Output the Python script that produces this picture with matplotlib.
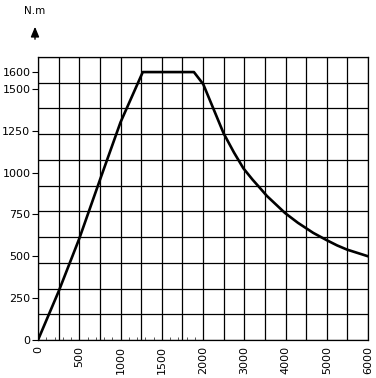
import numpy as np
import matplotlib
matplotlib.use('Agg')
import matplotlib.pyplot as plt

#====================================================
# Data
#====================================================

rpm = [0, 250, 500, 750, 1000, 1270, 1890, 2005, 2500, 2750, 2980,
       3200, 3380, 3550, 3990, 4300, 4670, 5000, 5250, 5490, 6000]
torque = [0, 290, 605, 955, 1300, 1600, 1600, 1528, 1234, 1120, 1025,
          958, 908, 860, 758, 700, 640, 596, 565, 540, 500]

ytick_vals = [0, 250, 500, 750, 1000, 1250, 1500, 1600]
xtick_vals = [0, 500, 1000, 1500, 2000, 3000, 4000, 5000, 6000]
xgrid_vals = list(range(0, 2000, 250)) + list(range(2000, 6001, 500))
xminor_vals = list(range(100, 2000, 100))
y_top = 1690
n_rows = 11

#====================================================
# Piecewise x scale: 250 rpm per cell up to 2000, then 500
#====================================================

def fwd(x):
    x = np.asarray(x, dtype=float)
    return np.where(x <= 2000, x / 250.0, 8 + (x - 2000) / 500.0)

def inv(u):
    u = np.asarray(u, dtype=float)
    return np.where(u <= 8, u * 250.0, 2000 + (u - 8) * 500.0)

plt.rcParams['font.family'] = ['DejaVu Sans']

fig = plt.figure(figsize=(3.76, 3.78), dpi=100)
ax = fig.add_axes([38 / 376, 38 / 378, 330 / 376, 283 / 378])
ax.set_xscale('function', functions=(fwd, inv))
ax.set_xlim(0, 6000)
ax.set_ylim(0, y_top)

# grid
for xv in xgrid_vals:
    ax.axvline(xv, color='k', lw=0.9, zorder=1)
for yv in np.linspace(0, y_top, n_rows + 1):
    ax.axhline(yv, color='k', lw=0.9, zorder=1)

ax.plot(rpm, torque, color='k', lw=1.9, solid_joinstyle='round', zorder=3)

for s in ax.spines.values():
    s.set_linewidth(0.9)

ax.set_yticks(ytick_vals)
ax.set_yticklabels([str(v) for v in ytick_vals])
ax.set_xticks(xtick_vals)
ax.set_xticklabels([str(v) for v in xtick_vals], rotation=90)
ax.set_xticks(xminor_vals, minor=True)
ax.tick_params(axis='y', direction='out', length=4, width=0.8, pad=1.5,
               labelsize=8)
ax.tick_params(axis='x', which='major', length=0, pad=4, labelsize=8)
ax.tick_params(axis='x', which='minor', direction='in', length=2.5,
               width=0.7, color='#555555')

# unit label with arrow
fig.text(35 / 376, 1 - 11 / 378, 'N.m', ha='center', va='center',
         fontsize=7.5)
fig.add_artist(matplotlib.patches.FancyArrowPatch(
    (35 / 376, 1 - 42 / 378), (35 / 376, 1 - 24 / 378),
    transform=fig.transFigure, arrowstyle='-|>,head_length=0.6,head_width=0.25',
    mutation_scale=10, color='k', lw=1.0))

plt.savefig('out.png', dpi=100)
